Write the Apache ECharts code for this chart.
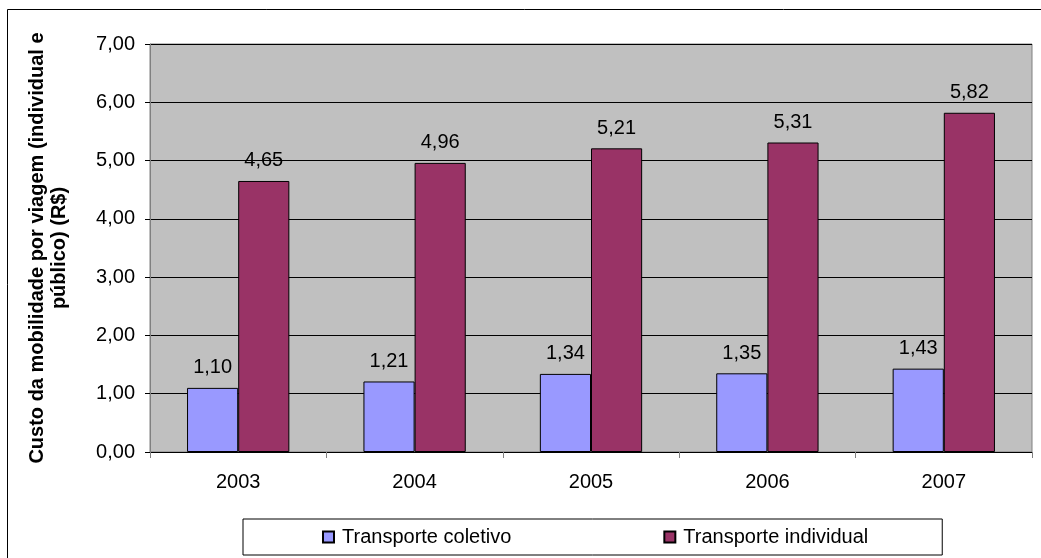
<!DOCTYPE html>
<html>
<head>
<meta charset="utf-8">
<script src="https://cdn.jsdelivr.net/npm/echarts@6/dist/echarts.min.js"></script>
<style>
  html, body { margin: 0; padding: 0; background: #fff; }
  #main { width: 1041px; height: 558px; }
</style>
</head>
<body>
<div id="main"></div>
<script>
// dados
const anos = ['2003', '2004', '2005', '2006', '2007'];
const coletivo = [1.10, 1.21, 1.34, 1.35, 1.43];
const individual = [4.65, 4.96, 5.21, 5.31, 5.82];
const nomes = ['Transporte coletivo', 'Transporte individual'];

const fmt = v => Number(v).toFixed(2).replace('.', ',');
const fonte = 'Liberation Sans, Arial, sans-serif';

let myChart = echarts.init(document.getElementById('main'));
let option = {
    backgroundColor: '#fff',
    animation: false,
    textStyle: { fontFamily: fonte },
    graphic: [{
        type: 'rect',
        shape: { x: 7.5, y: 9.5, width: 1040, height: 560 },
        style: { fill: 'none', stroke: '#000', lineWidth: 1 },
        silent: true,
        z: -1
    }],
    grid: {
        left: 150,
        right: 9,
        top: 44,
        bottom: 106,
        show: true,
        backgroundColor: '#c0c0c0',
        borderColor: '#808080',
        borderWidth: 1
    },
    legend: {
        data: nomes,
        left: 243,
        top: 519,
        width: 706,
        padding: [8, 74, 8, 79],
        itemGap: 152,
        itemWidth: 11,
        itemHeight: 11,
        icon: 'rect',
        borderColor: '#000',
        borderWidth: 1,
        textStyle: { fontSize: 20, color: '#000', fontFamily: fonte, padding: [0, 0, 0, 3] }
    },
    xAxis: {
        type: 'category',
        data: anos,
        axisLine: { lineStyle: { color: '#000', width: 1 } },
        axisTick: { show: true, length: 6, lineStyle: { color: '#808080' } },
        axisLabel: { fontSize: 20, color: '#000', margin: 20 }
    },
    yAxis: {
        type: 'value',
        min: 0,
        max: 7,
        interval: 1,
        name: 'Custo da mobilidade por viagem (individual e\npúblico) (R$)',
        nameLocation: 'middle',
        nameGap: 80,
        nameTextStyle: { fontSize: 20, fontWeight: 'bold', color: '#000', lineHeight: 22 },
        axisLine: { show: true, lineStyle: { color: '#808080' } },
        axisTick: { show: true, length: 5, lineStyle: { color: '#000' } },
        axisLabel: { fontSize: 20, color: '#000', margin: 15, formatter: fmt },
        splitLine: { lineStyle: { color: '#000', width: 1 } }
    },
    series: [{
        name: nomes[0],
        type: 'bar',
        data: coletivo,
        barGap: '0%',
        barCategoryGap: '42%',
        itemStyle: { color: '#9999ff', borderColor: '#000', borderWidth: 1 },
        label: {
            show: true, position: 'top', distance: 10,
            fontSize: 20, color: '#000', formatter: p => fmt(p.value)
        }
    }, {
        name: nomes[1],
        type: 'bar',
        data: individual,
        itemStyle: { color: '#993366', borderColor: '#000', borderWidth: 1 },
        label: {
            show: true, position: 'top', distance: 10,
            fontSize: 20, color: '#000', formatter: p => fmt(p.value)
        }
    }]
};
myChart.setOption(option);
</script>
</body>
</html>
